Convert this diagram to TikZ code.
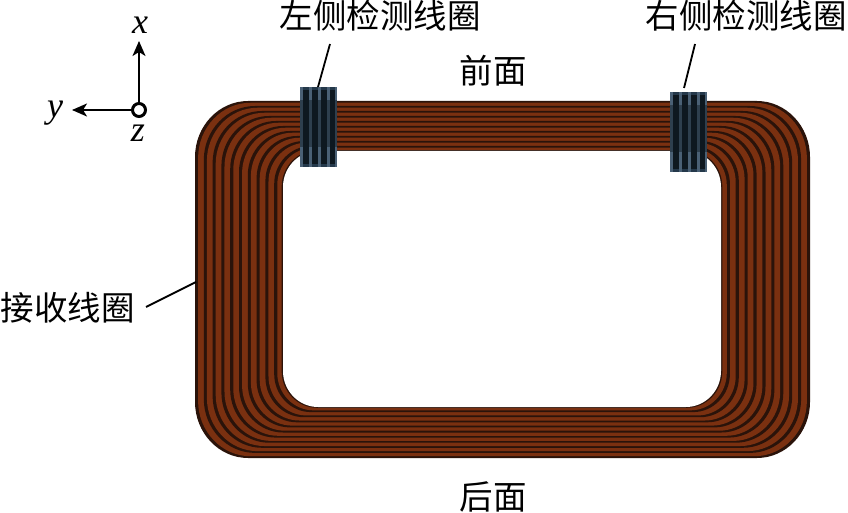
\documentclass[tikz,border=0pt]{standalone}
\usepackage{fontspec}
\newfontfamily\cjk{Noto Sans CJK SC}
\newfontfamily\latin{Liberation Serif}
\usetikzlibrary{arrows.meta}
\definecolor{brownA}{HTML}{7A3010}
\definecolor{brownD}{HTML}{2A130A}
\definecolor{coilA}{HTML}{4A6075}
\definecolor{coilM}{HTML}{24384A}
\definecolor{coilD}{HTML}{0E1820}
\tikzset{
  lbl/.style={font=\cjk\fontsize{33.5}{35}\selectfont,inner sep=0pt,text=black},
  axlbl/.style={font=\latin\itshape\fontsize{36}{37}\selectfont,inner sep=0pt},
  leader/.style={draw=black,line width=1.8pt},
  axis/.style={draw=black,line width=1.8pt,-{Stealth[length=15pt,width=13pt,inset=4pt]}},
  coilbox/.style={draw=none,fill=coilM,minimum width=37pt,minimum height=80pt,inner sep=0pt,outer sep=0pt}
}
% one nested rounded outline; #1 = fraction from outer to inner edge, #2 = colour
\newcommand{\bandlayer}[2]{%
  \pgfmathsetmacro{\xa}{195+88*#1}\pgfmathsetmacro{\xb}{810-89*#1}%
  \pgfmathsetmacro{\ya}{101+50*#1}\pgfmathsetmacro{\yb}{458-51*#1}%
  \pgfmathsetmacro{\rx}{53-18*#1}\pgfmathsetmacro{\ry}{56-20*#1}%
  \fill[#2] (\xa+\rx,\ya) -- (\xb-\rx,\ya)
    .. controls (\xb-0.45*\rx,\ya) and (\xb,\ya+0.45*\ry) .. (\xb,\ya+\ry)
    -- (\xb,\yb-\ry)
    .. controls (\xb,\yb-0.45*\ry) and (\xb-0.45*\rx,\yb) .. (\xb-\rx,\yb)
    -- (\xa+\rx,\yb)
    .. controls (\xa+0.45*\rx,\yb) and (\xa,\yb-0.45*\ry) .. (\xa,\yb-\ry)
    -- (\xa,\ya+\ry)
    .. controls (\xa,\ya+0.45*\ry) and (\xa+0.45*\rx,\ya) .. (\xa+\rx,\ya) -- cycle;}
% stripes of a sensing coil: #1 = left, #2 = top
\newcommand{\coilstripes}[2]{%
  \foreach \k in {0,...,3}{%
    \pgfmathsetmacro{\sx}{#1+\k*8.9}%
    \fill[coilD] (\sx+3,#2+3) rectangle (\sx+8.9,#2+77);
    \fill[coilA] (\sx,#2) rectangle (\sx+3,#2+80);
  }%
  \fill[coilA] (#1+35,#2) rectangle (#1+37,#2+80);
  \fill[coilD,opacity=0.45] (#1,#2+13) rectangle (#1+37,#2+60);
}
\begin{document}
\begin{tikzpicture}[x=1pt,y=-1pt]
\useasboundingbox (0,0) rectangle (848,513);
% receiving coil
\foreach \k in {0,...,9}{%
  \pgfmathsetmacro{\ta}{\k/10}\pgfmathsetmacro{\tb}{(\k+0.35)/10}%
  \bandlayer{\ta}{brownD}
  \bandlayer{\tb}{brownA}
}
\bandlayer{0.985}{brownD}
\bandlayer{1}{white}
% sensing coils
\node[coilbox] (coilL) at (318.5,127) {};
\coilstripes{300}{87}
\node[coilbox] (coilR) at (688.5,132) {};
\coilstripes{670}{92}
% labels
\node[lbl] (lblL) at (380,16) {左侧检测线圈};
\node[lbl] (lblR) at (746,16) {右侧检测线圈};
\node[lbl] (front) at (493,71) {前面};
\node[lbl] (back) at (493,497) {后面};
\node[lbl] (recv) at (68,308) {接收线圈};
% leaders
\coordinate (recvEnd) at (196,282);
\coordinate (recvStart) at (146,307);
\coordinate (lStart) at (330,44);
\coordinate (lEnd) at (318,87);
\coordinate (rStart) at (695,44);
\coordinate (rEnd) at (684,88);
\draw[leader] (lStart) -- (lEnd);
\draw[leader] (rStart) -- (rEnd);
\draw[leader] (recvStart) -- (recvEnd);
% axes
\node[circle,draw=black,line width=3pt,minimum size=13pt,inner sep=0pt,outer sep=0pt] (o) at (139,110) {};
\coordinate (xEnd) at (139,41);
\coordinate (yEnd) at (72,110);
\draw[axis] (o.north) -- (xEnd);
\draw[axis] (o.west) -- (yEnd);
\node[axlbl] (xl) at (140,25) {x};
\node[axlbl] (yl) at (55,113) {y};
\node[axlbl] (zl) at (138,133) {z};
\end{tikzpicture}
\end{document}
